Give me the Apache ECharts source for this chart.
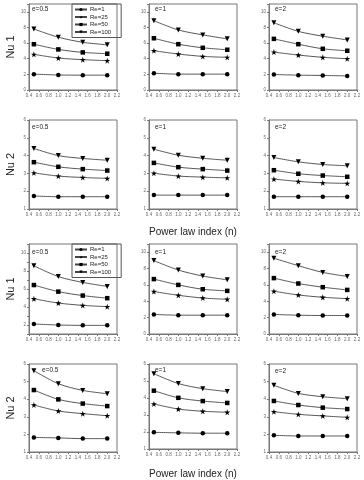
<!DOCTYPE html>
<html><head><meta charset="utf-8">
<script src="https://cdn.jsdelivr.net/npm/echarts@6/dist/echarts.min.js"></script>
<style>html,body{margin:0;padding:0;background:#fff}#c{width:364px;height:480px}</style>
</head><body><div id="c"></div>
<script>
// ---- data ----
const nValues = [0.5, 1.0, 1.5, 2.0];
const reLabels = ['Re=1', 'Re=25', 'Re=50', 'Re=100'];
const eLabels = ['e=0.5', 'e=1', 'e=2'];
const xTicks = ['0.4','0.6','0.8','1.0','1.2','1.4','1.6','1.8','2.0','2.2'];
// each panel: [Re=1, Re=25, Re=50, Re=100]
const nu1A_e05 = [[2.03,1.92,1.9,1.9],[4.56,4.09,3.88,3.75],[5.86,5.19,4.81,4.64],[7.8,6.75,6.1,5.78]];
const nu1A_e1  = [[2.15,2.03,2.03,2.03],[5.02,4.6,4.3,4.18],[6.62,5.86,5.4,5.15],[8.86,7.68,7.05,6.54]];
const nu1A_e2  = [[1.98,1.9,1.86,1.8],[4.85,4.47,4.18,4.0],[6.54,5.86,5.27,5.02],[8.6,7.5,6.88,6.41]];
const nu2A_e05 = [[1.73,1.69,1.69,1.69],[3.03,2.85,2.77,2.72],[3.63,3.37,3.24,3.16],[4.4,4.0,3.84,3.74]];
const nu2A_e1  = [[1.78,1.78,1.78,1.78],[3.01,2.85,2.79,2.75],[3.59,3.35,3.24,3.16],[4.36,4.02,3.85,3.74]];
const nu2A_e2  = [[1.69,1.69,1.69,1.69],[2.68,2.55,2.47,2.44],[3.18,2.98,2.88,2.81],[3.89,3.65,3.5,3.43]];
const nu1B_e05 = [[2.11,2.0,1.96,1.96],[4.91,4.44,4.18,4.04],[6.44,5.71,5.27,4.98],[8.58,7.38,6.73,6.29]];
const nu1B_e1  = [[2.39,2.3,2.3,2.3],[5.19,4.73,4.4,4.24],[6.71,6.0,5.47,5.27],[8.97,7.82,7.08,6.63]];
const nu1B_e2  = [[2.39,2.3,2.26,2.26],[5.23,4.77,4.49,4.32],[6.83,6.17,5.72,5.39],[9.26,8.35,7.53,7.04]];
const nu2B_e05 = [[1.83,1.8,1.76,1.76],[3.67,3.33,3.18,3.06],[4.52,3.99,3.75,3.61],[5.62,4.88,4.5,4.31]];
const nu2B_e1  = [[1.98,1.95,1.93,1.93],[3.65,3.35,3.22,3.16],[4.43,4.01,3.82,3.71],[5.43,4.85,4.55,4.38]];
const nu2B_e2  = [[1.95,1.91,1.91,1.91],[3.29,3.14,3.05,2.97],[3.9,3.67,3.52,3.44],[4.79,4.33,4.14,4.03]];
const yNames = ['Nu 1', 'Nu 2', 'Nu 1', 'Nu 2'];
const xName = 'Power law index (n)';

const panels = [
  [nu1A_e05, nu1A_e1, nu1A_e2],
  [nu2A_e05, nu2A_e1, nu2A_e2],
  [nu1B_e05, nu1B_e1, nu1B_e2],
  [nu2B_e05, nu2B_e1, nu2B_e2]
];
// ---- layout ----
const colLeft = [29, 149, 269];
const rowTop = [4, 120, 244, 364];
const rowH = [86, 89, 90, 88];
const xNameGap = [0, 18, 0, 20];
const yRange = [
  [[0,11,2],[0,11,2],[0,11,2]],
  [[1,6,1],[1,6,1],[1,6,1]],
  [[1,11,1],[0,11,2],[0,11,2]],
  [[1,6,1],[1,6,1],[1,6,1]]
];
const eLabelPos = [
  [[32,6],[155,6],[275,6]],
  [[32,124],[155,124],[275,124]],
  [[32,249],[155,249],[275,249]],
  [[42,367],[155,367],[275,368]]
];
const starPath = 'path://M50,0 L61,35 L98,35 L68,57 L79,91 L50,70 L21,91 L32,57 L2,35 L39,35 Z';
const symbols = ['circle', starPath, 'rect', 'triangle'];
const symSize = [4.5, 6, 4.5, 5];
const symRot = [0, 0, 0, 180];

const grid = [], xAxis = [], yAxis = [], series = [], graphic = [];
const tickFont = {fontSize: 4.5, color: '#666', fontFamily: 'Liberation Sans'};
let idx = 0;
for (let r = 0; r < 4; r++) {
  for (let c = 0; c < 3; c++) {
    grid.push({left: colLeft[c], top: rowTop[r], width: 88, height: rowH[r], show: true, borderColor: '#777', borderWidth: 1});
    xAxis.push({
      type: 'value', gridIndex: idx, min: 0.4, max: 2.2, interval: 0.2,
      axisLine: {lineStyle: {color: '#777'}}, axisTick: {length: 2, lineStyle: {color: '#777'}},
      splitLine: {show: false},
      axisLabel: {...tickFont, margin: 3, formatter: v => xTicks[Math.round((v - 0.4) / 0.2)] || ''},
      name: (c === 1 && (r === 1 || r === 3)) ? xName : '',
      nameLocation: 'middle', nameGap: xNameGap[r],
      nameTextStyle: {fontSize: 10, color: '#222', fontFamily: 'Liberation Sans'}
    });
    const [mn, mx, iv] = yRange[r][c];
    yAxis.push({
      type: 'value', gridIndex: idx, min: mn, max: mx, interval: iv,
      axisLine: {show: true, lineStyle: {color: '#777'}}, axisTick: {show: true, length: 2, lineStyle: {color: '#777'}},
      splitLine: {show: false},
      axisLabel: {...tickFont, margin: 3, formatter: v => {
        if (mx > 6) return (Math.round(v) % 2 === 0 && v <= 10) ? String(Math.round(v)) : '';
        return String(v);
      }},
      name: c === 0 ? yNames[r] : '', nameLocation: 'middle', nameGap: 13,
      nameTextStyle: {fontSize: 11, color: '#222', fontFamily: 'Liberation Sans'}
    });
    const data = panels[r][c];
    for (let k = 0; k < 4; k++) {
      series.push({
        type: 'line', name: reLabels[k], xAxisIndex: idx, yAxisIndex: idx,
        data: nValues.map((n, i) => [n, data[k][i]]),
        symbol: symbols[k], symbolSize: symSize[k], symbolRotate: symRot[k],
        smooth: 0.3, showAllSymbol: true,
        lineStyle: {color: '#444', width: 0.9},
        itemStyle: {color: '#000'},
        animation: false
      });
    }
    graphic.push({type: 'text', left: eLabelPos[r][c][0], top: eLabelPos[r][c][1],
      style: {text: eLabels[c], fontSize: 6.5, fill: '#222', fontFamily: 'Liberation Sans'}});
    idx++;
  }
}
const legendCfg = top => ({
  data: reLabels, orient: 'vertical', left: 72, top: top,
  borderColor: '#555', borderWidth: 1, padding: [2, 10, 2, 2],
  itemWidth: 12, itemHeight: 4, itemGap: 0.5,
  textStyle: {fontSize: 6, lineHeight: 7, color: '#222', fontFamily: 'Liberation Sans', padding: [0,0,0,-2]},
  selectedMode: false
});
const chart = echarts.init(document.getElementById('c'), null, {renderer: 'canvas'});
chart.setOption({
  animation: false, backgroundColor: '#fff',
  grid, xAxis, yAxis, series, graphic,
  legend: [legendCfg(4), legendCfg(244)]
});
</script></body></html>
